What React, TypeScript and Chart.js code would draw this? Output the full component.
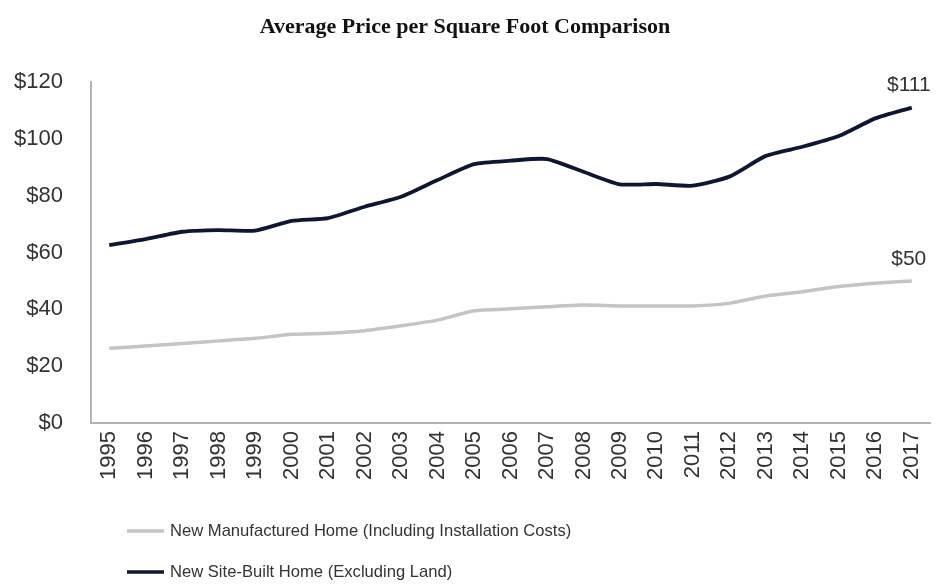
import React, { useEffect, useRef } from "react";
import { Chart, registerables } from "chart.js";

Chart.register(...registerables);

const years = [
  "1995", "1996", "1997", "1998", "1999", "2000", "2001", "2002", "2003", "2004", "2005",
  "2006", "2007", "2008", "2009", "2010", "2011", "2012", "2013", "2014", "2015", "2016", "2017",
];
const manufactured = [
  26.3, 27.1, 28.0, 28.9, 29.8, 31.2, 31.6, 32.5, 34.2, 36.2, 39.5,
  40.2, 40.9, 41.5, 41.2, 41.2, 41.2, 42.1, 44.7, 46.2, 48.0, 49.2, 50,
];
const siteBuilt = [
  62.6, 64.7, 67.3, 67.9, 67.7, 71.1, 72.1, 76.1, 79.6, 85.5, 91.1,
  92.3, 92.9, 88.4, 84.0, 84.1, 83.5, 86.7, 94.0, 97.2, 101.0, 107.2, 111,
];
const seriesNames = [
  "New Manufactured Home (Including Installation Costs)",
  "New Site-Built Home (Excluding Land)",
];
const endLabels = ["$50", "$111"];
const title = "Average Price per Square Foot Comparison";

const FONT = "'Liberation Sans', Arial, Helvetica, sans-serif";

const endLabelPlugin = {
  id: "endLabels",
  afterDatasetsDraw(chart: any) {
    const ctx = chart.ctx;
    ctx.save();
    ctx.font = `21px ${FONT}`;
    ctx.fillStyle = "#333";
    ctx.textAlign = "center";
    ctx.textBaseline = "middle";
    chart.data.datasets.forEach((ds: any, i: number) => {
      const meta = chart.getDatasetMeta(i);
      const pt = meta.data[meta.data.length - 1];
      if (!pt) return;
      ctx.fillText(endLabels[i], pt.x - 3, pt.y - 22);
    });
    ctx.restore();
  },
};

const customLegendPlugin = {
  id: "customLegend",
  afterDraw(chart: any) {
    const ctx = chart.ctx;
    ctx.save();
    ctx.font = `16.6px ${FONT}`;
    ctx.textBaseline = "middle";
    ctx.textAlign = "left";
    const rows = [531, 572];
    chart.data.datasets.forEach((ds: any, i: number) => {
      const y = rows[i];
      ctx.strokeStyle = ds.borderColor;
      ctx.lineWidth = 3.5;
      ctx.beginPath();
      ctx.moveTo(127, y);
      ctx.lineTo(164, y);
      ctx.stroke();
      ctx.fillStyle = "#333";
      ctx.fillText(ds.label, 170, y);
    });
    ctx.restore();
  },
};

export default function App() {
  const ref = useRef<HTMLCanvasElement | null>(null);
  useEffect(() => {
    if (!ref.current) return;
    const chart = new Chart(ref.current, {
      type: "line",
      data: {
        labels: years,
        datasets: [
          {
            label: seriesNames[0],
            data: manufactured,
            borderColor: "#c4c4c4",
            borderWidth: 3.5,
            pointRadius: 0,
            tension: 0.2,
            fill: false,
          },
          {
            label: seriesNames[1],
            data: siteBuilt,
            borderColor: "#0e1638",
            borderWidth: 3.8,
            pointRadius: 0,
            tension: 0.2,
            fill: false,
          },
        ],
      },
      options: {
        responsive: false,
        animation: false,
        layout: { padding: { left: 0, right: 11, top: 0, bottom: 0 } },
        plugins: {
          legend: { display: false },
          tooltip: { enabled: false },
          title: {
            display: true,
            text: title,
            color: "#111",
            font: { family: "'Liberation Serif', 'Times New Roman', serif", size: 22, weight: "bold" },
            padding: { top: 14, bottom: 41.6 },
          },
        },
        scales: {
          x: {
            offset: true,
            grid: { display: false, drawTicks: false },
            border: { display: true, color: "#b3b3b3", width: 2 },
            ticks: {
              color: "#333",
              font: { family: FONT, size: 22 },
              minRotation: 90,
              maxRotation: 90,
              autoSkip: false,
              padding: 8,
            },
            afterFit(scale: any) {
              scale.height = 164;
              scale.paddingRight = 0;
              scale.paddingLeft = 0;
            },
          },
          y: {
            min: 0,
            max: 120,
            grid: { display: false, drawTicks: false },
            border: { display: true, color: "#b3b3b3", width: 2 },
            ticks: {
              stepSize: 20,
              color: "#333",
              font: { family: FONT, size: 22 },
              padding: 28,
              callback: (v: any) => "$" + v,
            },
            afterFit(scale: any) {
              scale.width = 91;
            },
          },
        },
      },
      plugins: [endLabelPlugin, customLegendPlugin],
    });
    return () => chart.destroy();
  }, []);
  return (
    <div style={{ position: "absolute", left: 0, top: 0, width: 941, height: 587, background: "#fff" }}>
      <canvas ref={ref} width={941} height={587} />
    </div>
  );
}
